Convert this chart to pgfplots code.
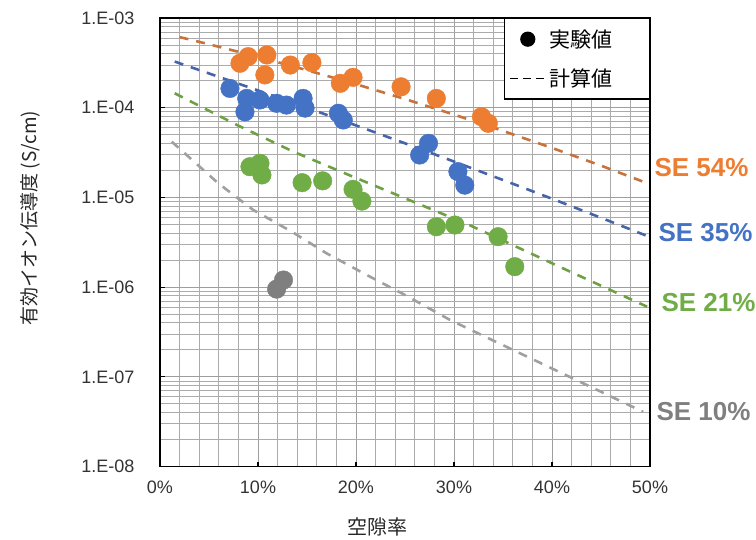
\documentclass[border=0pt]{standalone}
\usepackage{pgfplots}
\pgfplotsset{compat=1.18}
\usepackage{fontspec}
\setmainfont{Liberation Sans}
\newfontfamily\jp{Noto Sans CJK JP}
\definecolor{cOr}{RGB}{237,125,49}
\definecolor{cBl}{RGB}{68,114,196}
\definecolor{cGr}{RGB}{112,173,71}
\definecolor{cGy}{RGB}{127,127,127}
\definecolor{lOr}{RGB}{200,115,60}
\definecolor{lBl}{RGB}{70,100,170}
\definecolor{lGr}{RGB}{110,160,70}
\definecolor{lGy}{RGB}{160,160,160}
\begin{document}
\begin{tikzpicture}
\path[use as bounding box] (-160pt,-72.5pt) rectangle (596pt,466.5pt);
\begin{axis}[
  scale only axis, width=490pt, height=448.5pt,
  xmin=0, xmax=50, ymin=1e-8, ymax=1e-3, ymode=log,
  xtick={0,10,20,30,40,50},
  xticklabels={0\%,10\%,20\%,30\%,40\%,50\%},
  minor x tick num=4,
  ytick={1e-8,1e-7,1e-6,1e-5,1e-4,1e-3},
  yticklabels={1.E-08,1.E-07,1.E-06,1.E-05,1.E-04,1.E-03},
  grid=both,
  major grid style={black!38, line width=0.9pt},
  minor grid style={black!33, line width=0.8pt},
  tick pos=left, tick align=inside,
  major tick length=5pt, minor tick length=0pt,
  axis line style={black, line width=1.6pt},
  tick style={black, line width=1.2pt},
  ticklabel style={font=\fontsize{18}{20}\selectfont, text=black!80},
  xticklabel style={yshift=-11pt},
  yticklabel style={xshift=-22pt},
  xlabel={\jp 空隙率},
  xlabel style={at={(axis description cs:0.443,-0.135)}, anchor=center, font=\fontsize{20}{22}\selectfont, text=black!85},
  ylabel={\jp 有効イオン伝導度 (S/cm)},
  ylabel style={at={(axis description cs:-0.265,0.554)}, anchor=center, font=\fontsize{19}{21}\selectfont, text=black!85},
  clip=false,
  legend style={at={(1,1)}, anchor=north east, draw=black, line width=1.2pt,
    font=\jp\fontsize{21}{23}\selectfont, row sep=16pt, inner xsep=5pt, inner ysep=9pt,
    cells={anchor=west}},
  legend image code/.code={\draw[mark repeat=2,mark phase=2,#1] plot coordinates {(0pt,0pt) (18pt,0pt) (37pt,0pt)};},
]
\addlegendimage{only marks, mark=*, mark size=7pt, black}
\addlegendentry{実験値\rule{0pt}{0pt}\hspace*{30pt}}
\addlegendimage{black, line width=1.2pt, dash pattern=on 8pt off 5pt}
\addlegendentry{計算値\rule{0pt}{0pt}\hspace*{30pt}}

% experimental points
\addplot[only marks, mark=*, mark size=9.3pt, color=cOr, mark options={fill=cOr, draw=cOr}, forget plot] coordinates {
(8.16,3.13e-4) (9.0,3.71e-4) (10.9,3.87e-4) (10.7,2.32e-4) (13.3,2.99e-4) (15.5,3.18e-4)
(18.4,1.87e-4) (19.7,2.18e-4) (24.6,1.71e-4) (28.2,1.27e-4) (32.8,7.94e-5) (33.5,6.7e-5)};
\addplot[only marks, mark=*, mark size=9.3pt, color=cBl, mark options={fill=cBl, draw=cBl}, forget plot] coordinates {
(7.14,1.64e-4) (8.85,1.27e-4) (8.67,9.0e-5) (10.2,1.22e-4) (11.9,1.12e-4) (12.9,1.07e-4)
(14.6,1.27e-4) (14.8,9.9e-5) (18.2,8.67e-5) (18.7,7.3e-5) (26.5,2.97e-5) (27.4,4.01e-5)
(30.4,1.94e-5) (31.1,1.37e-5)};
\addplot[only marks, mark=*, mark size=9.3pt, color=cGr, mark options={fill=cGr, draw=cGr}, forget plot] coordinates {
(9.18,2.2e-5) (10.2,2.4e-5) (10.4,1.78e-5) (14.5,1.46e-5) (16.6,1.53e-5) (19.7,1.23e-5)
(20.6,9.1e-6) (28.2,4.71e-6) (30.1,4.92e-6) (34.5,3.65e-6) (36.2,1.69e-6)};
\addplot[only marks, mark=*, mark size=9.3pt, color=cGy, mark options={fill=cGy, draw=cGy}, forget plot] coordinates {
(11.9,9.5e-7) (12.6,1.2e-6)};

% calculated lines
\addplot[lOr, line width=2.6pt, dash pattern=on 9pt off 8pt, forget plot] coordinates {
(2,6.13e-4) (5,5.10e-4) (10,3.69e-4) (15,2.62e-4) (20,1.83e-4) (25,1.25e-4) (30,8.38e-5)
(35,5.51e-5) (40,3.56e-5) (45,2.26e-5) (49.5,1.47e-5)};
\addplot[lBl, line width=2.6pt, dash pattern=on 9pt off 8pt, forget plot] coordinates {
(1.5,3.27e-4) (5,2.41e-4) (10,1.558e-4) (15,9.98e-5) (20,6.35e-5) (25,4.01e-5) (30,2.51e-5)
(35,1.564e-5) (40,9.67e-6) (45,5.93e-6) (50,3.61e-6)};
\addplot[lGr, line width=2.6pt, dash pattern=on 9pt off 8pt, forget plot] coordinates {
(1.5,1.449e-4) (7.8,6.46e-5) (13.6,3.24e-5) (19.7,1.70e-5) (25.85,8.95e-6) (31.6,4.90e-6)
(41.5,1.55e-6) (49.7,6.05e-7)};
\addplot[lGy, line width=2.6pt, dash pattern=on 9pt off 8pt, forget plot] coordinates {
(1.2,4.18e-5) (5.95,1.435e-5) (9.52,7.24e-6) (13.44,4.15e-6) (17.0,2.38e-6) (21.1,1.365e-6)
(25.0,8.17e-7) (29.6,4.30e-7) (36.4,1.905e-7) (43.2,8.45e-8) (49.3,4.07e-8)};

\node[anchor=west, text=cOr, font=\fontsize{26}{28}\selectfont\bfseries] at (rel axis cs:1,0.6656) [xshift=1pt] {SE 54\%};
\node[anchor=west, text=cBl, font=\fontsize{26}{28}\selectfont\bfseries] at (rel axis cs:1,0.5206) [xshift=5pt] {SE 35\%};
\node[anchor=west, text=cGr, font=\fontsize{26}{28}\selectfont\bfseries] at (rel axis cs:1,0.3645) [xshift=8pt] {SE 21\%};
\node[anchor=west, text=cGy, font=\fontsize{26}{28}\selectfont\bfseries] at (rel axis cs:1,0.1215) [xshift=3pt] {SE 10\%};
\end{axis}
\end{tikzpicture}
\end{document}
